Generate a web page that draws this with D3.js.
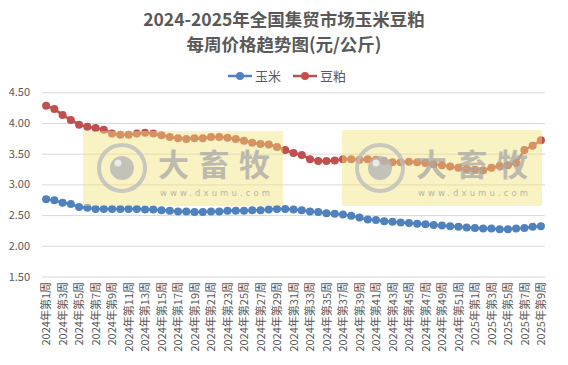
<!DOCTYPE html>
<html><head><meta charset="utf-8">
<script src="https://cdn.jsdelivr.net/npm/d3@7"></script>
<style>body{margin:0;background:#fff}svg{display:block}</style>
</head><body><svg id="c" width="568" height="365"></svg>
<script>
const weeks = [];
for (let i = 1; i <= 52; i++) weeks.push("2024年第" + i + "周");
for (let i = 1; i <= 9; i++) weeks.push("2025年第" + i + "周");
const corn = [2.76,2.74,2.70,2.68,2.63,2.62,2.60,2.60,2.60,2.60,2.60,2.60,2.59,2.59,2.58,2.57,2.56,2.56,2.55,2.55,2.56,2.56,2.57,2.57,2.57,2.58,2.58,2.59,2.60,2.60,2.59,2.58,2.56,2.55,2.53,2.52,2.51,2.49,2.46,2.43,2.42,2.40,2.39,2.38,2.37,2.36,2.35,2.34,2.33,2.32,2.31,2.30,2.29,2.28,2.28,2.27,2.27,2.28,2.29,2.31,2.32];
const meal = [4.28,4.23,4.13,4.05,3.97,3.94,3.92,3.89,3.83,3.81,3.81,3.83,3.84,3.83,3.80,3.77,3.75,3.74,3.75,3.75,3.77,3.77,3.76,3.74,3.71,3.68,3.66,3.65,3.61,3.56,3.51,3.48,3.41,3.38,3.38,3.39,3.41,3.41,3.40,3.41,3.40,3.38,3.36,3.36,3.37,3.36,3.35,3.33,3.31,3.29,3.27,3.25,3.24,3.23,3.27,3.30,3.31,3.35,3.56,3.63,3.72];
const yTicks = [1.5,2.0,2.5,3.0,3.5,4.0,4.5];
const seriesNames = ["玉米","豆粕"];
const colors = ["#4F81BD","#C0504D"];

const svg = d3.select("#c");
const font = "'Noto Sans CJK SC','Noto Sans',sans-serif";
const x = d3.scalePoint().domain(weeks).range([46.1, 540.9]);
const y = d3.scaleLinear().domain([1.5,4.5]).range([276.5,92.3]);

// title
svg.append("text").attr("x",284).attr("y",26).attr("text-anchor","middle").attr("font-family",font).attr("font-weight","bold").attr("font-size",17.5).attr("fill","#595959").text("2024-2025年全国集贸市场玉米豆粕");
svg.append("text").attr("x",284).attr("y",51).attr("text-anchor","middle").attr("font-family",font).attr("font-weight","bold").attr("font-size",17.5).attr("fill","#595959").text("每周价格趋势图(元/公斤)");

// grid + y axis
const ya = d3.axisLeft(y).tickValues(yTicks).tickFormat(d3.format(".2f")).tickSize(-(545-42)).tickPadding(12);
const yg = svg.append("g").attr("transform","translate(42,0)").call(ya);
yg.select(".domain").remove();
yg.selectAll(".tick line").attr("stroke","#d9d9d9").attr("stroke-width",1);
yg.selectAll(".tick text").attr("font-family",font).attr("font-size",11).attr("fill","#595959");

// x axis labels
const xa = d3.axisBottom(x).tickValues(weeks.filter((d,i)=>i%2===0)).tickSize(0).tickPadding(0);
const xg = svg.append("g").attr("transform","translate(0,280)").call(xa);
xg.select(".domain").remove();
xg.selectAll(".tick text").attr("font-family",font).attr("font-size",11).attr("fill","#595959")
  .attr("transform","rotate(-90)").attr("text-anchor","end").attr("dy","0.35em").attr("x",0).attr("y",0).attr("dx","-2");

// lines
[corn, meal].forEach((vals, k) => {
  const line = d3.line().x((d,i)=>x(weeks[i])).y(d=>y(d));
  svg.append("path").datum(vals).attr("d",line).attr("fill","none").attr("stroke",colors[k]).attr("stroke-width",2.5);
  svg.append("g").selectAll("circle").data(vals).join("circle")
    .attr("cx",(d,i)=>x(weeks[i])).attr("cy",d=>y(d)).attr("r",4).attr("fill",colors[k]);
});

// legend
[[228,"玉米"],[293,"豆粕"]].forEach((l,k)=>{
  const g = svg.append("g");
  g.append("line").attr("x1",l[0]).attr("x2",l[0]+24).attr("y1",76).attr("y2",76).attr("stroke",colors[k]).attr("stroke-width",2.5);
  g.append("circle").attr("cx",l[0]+12).attr("cy",76).attr("r",4).attr("fill",colors[k]);
  g.append("text").attr("x",l[0]+27).attr("y",80.5).attr("font-family",font).attr("font-size",13).attr("fill","#595959").text(seriesNames[k]);
});

// watermarks
function wm(x0, y0, w, h, cx) {
  const g = svg.append("g");
  g.append("rect").attr("x",x0).attr("y",y0).attr("width",w).attr("height",h).attr("fill","#f2e27a").attr("opacity",0.45);
  g.append("circle").attr("cx",cx).attr("cy",168).attr("r",23).attr("fill","none").attr("stroke","#bdbdbd").attr("stroke-width",4).attr("opacity",0.8);
  g.append("circle").attr("cx",cx).attr("cy",168).attr("r",12).attr("fill","#b5b5b5").attr("opacity",0.8);
  g.append("circle").attr("cx",cx-4).attr("cy",163).attr("r",3.5).attr("fill","#eeeeee").attr("opacity",0.9);
  g.append("text").attr("x",cx+36).attr("y",176).attr("font-family",font).attr("font-weight","bold").attr("font-size",31).attr("fill","#a8a8a8").attr("opacity",0.75).attr("textLength",112).text("大畜牧");
  g.append("text").attr("x",cx+38).attr("y",196).attr("font-family","'DejaVu Sans',sans-serif").attr("font-size",8.5).attr("fill","#a8a8a8").attr("opacity",0.8).attr("textLength",110).text("www.dxumu.com");
}
wm(83,131,200,75,122);
wm(342,130,200,76,380);
</script></body></html>
